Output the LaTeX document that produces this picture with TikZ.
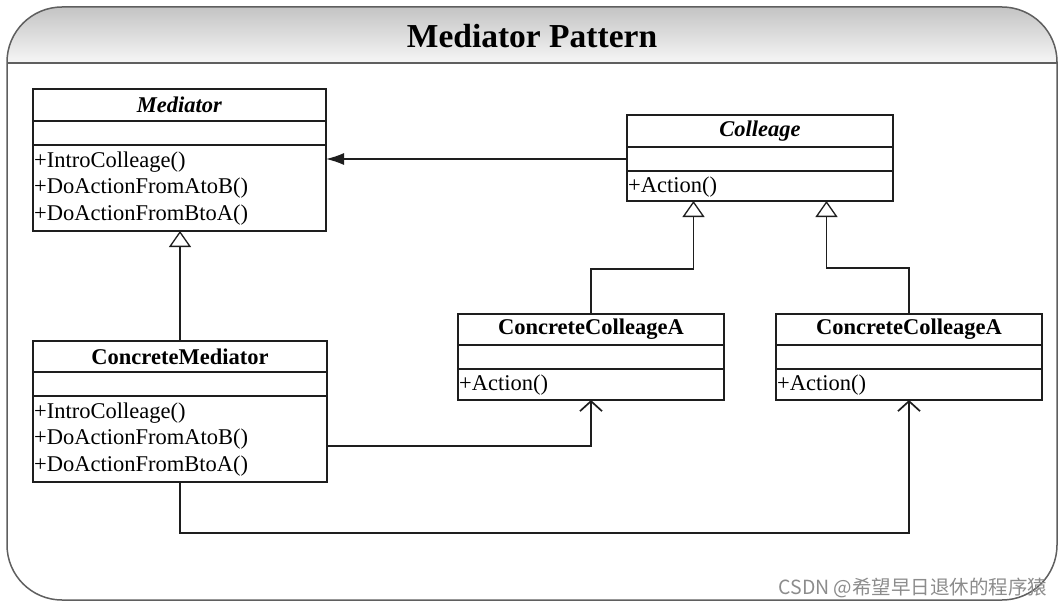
\documentclass[tikz,border=0pt]{standalone}
\usepackage{fontspec}
\setmainfont{Liberation Serif}
\newfontfamily\cjkfont{Noto Sans CJK SC}
\usetikzlibrary{arrows.meta,calc}
\definecolor{boxline}{RGB}{30,30,30}
\definecolor{frameline}{RGB}{95,95,95}
\definecolor{bartop}{RGB}{196,196,196}
\definecolor{barbot}{RGB}{246,246,246}
\tikzset{
  cmp/.style n args={2}{draw=boxline, line width=1.3pt, fill=white,
    minimum width=#1, minimum height=#2, inner sep=0pt, outer sep=0pt,
    anchor=north west, font=\fontsize{22.5}{26}\selectfont\bfseries},
  meth/.style={anchor=west, inner sep=0pt, font=\fontsize{22.5}{26}\selectfont},
  conn/.style={draw=boxline, line width=1.3pt},
  connb/.style={draw=boxline, line width=1.7pt},
  inh/.style={-{Triangle[open,length=16pt,width=22pt,fill=white]}},
  assoc/.style={-{Straight Barb[length=10pt,width=22pt]}},
  navi/.style={-{Latex[length=18pt,width=12pt]}}
}
\begin{document}
\begin{tikzpicture}[x=1pt,y=-1pt]
\useasboundingbox (0,0) rectangle (1063,607);
% frame
\begin{scope}
  \clip[rounded corners=55pt] (7,7) rectangle (1057,600);
  \shade[top color=bartop, bottom color=barbot] (7,7) rectangle (1057,63);
\end{scope}
\draw[frameline, line width=1.5pt, rounded corners=55pt] (7,7) rectangle (1057,600);
\draw[frameline, line width=1.5pt] (7,63) -- (1057,63);
\node[font=\fontsize{33.5}{40}\selectfont\bfseries] (title) at (532,36) {Mediator Pattern};

% Mediator
\node[cmp={293}{32}] (med-h) at (33,89) {\textit{Mediator}};
\node[cmp={293}{24}] (med-a) at (med-h.south west) {};
\node[cmp={293}{86}] (med-m) at (med-a.south west) {};
\node[meth] (med-1) at ($(med-m.north west)+(1,17)$) {+IntroColleage()};
\node[meth] (med-2) at ($(med-m.north west)+(1,43.5)$) {+DoActionFromAtoB()};
\node[meth] (med-3) at ($(med-m.north west)+(1,70)$) {+DoActionFromBtoA()};

% Colleage
\node[cmp={266}{32}] (col-h) at (627,115) {\textit{Colleage}};
\node[cmp={266}{24}] (col-a) at (col-h.south west) {};
\node[cmp={266}{30}] (col-m) at (col-a.south west) {};
\node[meth] (col-1) at ($(col-m.north west)+(1,16.5)$) {+Action()};

% ConcreteColleageA 1
\node[cmp={266}{31}] (ca-h) at (458,314) {ConcreteColleageA};
\node[cmp={266}{24}] (ca-a) at (ca-h.south west) {};
\node[cmp={266}{31}] (ca-m) at (ca-a.south west) {};
\node[meth] (ca-1) at ($(ca-m.north west)+(1,16.5)$) {+Action()};

% ConcreteColleageA 2
\node[cmp={266}{31}] (cb-h) at (776,314) {ConcreteColleageA};
\node[cmp={266}{24}] (cb-a) at (cb-h.south west) {};
\node[cmp={266}{31}] (cb-m) at (cb-a.south west) {};
\node[meth] (cb-1) at ($(cb-m.north west)+(1,16.5)$) {+Action()};

% ConcreteMediator
\node[cmp={294}{31}] (cm-h) at (33,341) {ConcreteMediator};
\node[cmp={294}{24}] (cm-a) at (cm-h.south west) {};
\node[cmp={294}{86}] (cm-m) at (cm-a.south west) {};
\node[meth] (cm-1) at ($(cm-m.north west)+(1,17)$) {+IntroColleage()};
\node[meth] (cm-2) at ($(cm-m.north west)+(1,43.5)$) {+DoActionFromAtoB()};
\node[meth] (cm-3) at ($(cm-m.north west)+(1,70)$) {+DoActionFromBtoA()};

% connectors
\coordinate (c1) at ($(col-m.south west)!0.25!(col-m.south east)$);
\coordinate (c2) at ($(col-m.south west)!0.75!(col-m.south east)$);
\draw[conn, navi] (col-a.west) -- (col-a.west -| med-m.east);
\draw[conn, inh] (cm-h.north) -- (cm-h.north |- med-m.south);
\draw[conn, inh] (ca-h.north) -- ++(0,-45) -| (c1);
\draw[conn, inh] (cb-h.north) -- ++(0,-46) -| (c2);
\draw[connb, assoc] ($(cm-m.north east)+(0,50)$) -| (ca-m.south);
\draw[connb, assoc] (cm-m.south) -- ++(0,51) -| (cb-m.south);

% watermark
\node[font=\cjkfont\fontsize{19.5}{22}\selectfont, text=black!45] (wm) at (913,588) {CSDN @希望早日退休的程序猿};
\end{tikzpicture}
\end{document}
